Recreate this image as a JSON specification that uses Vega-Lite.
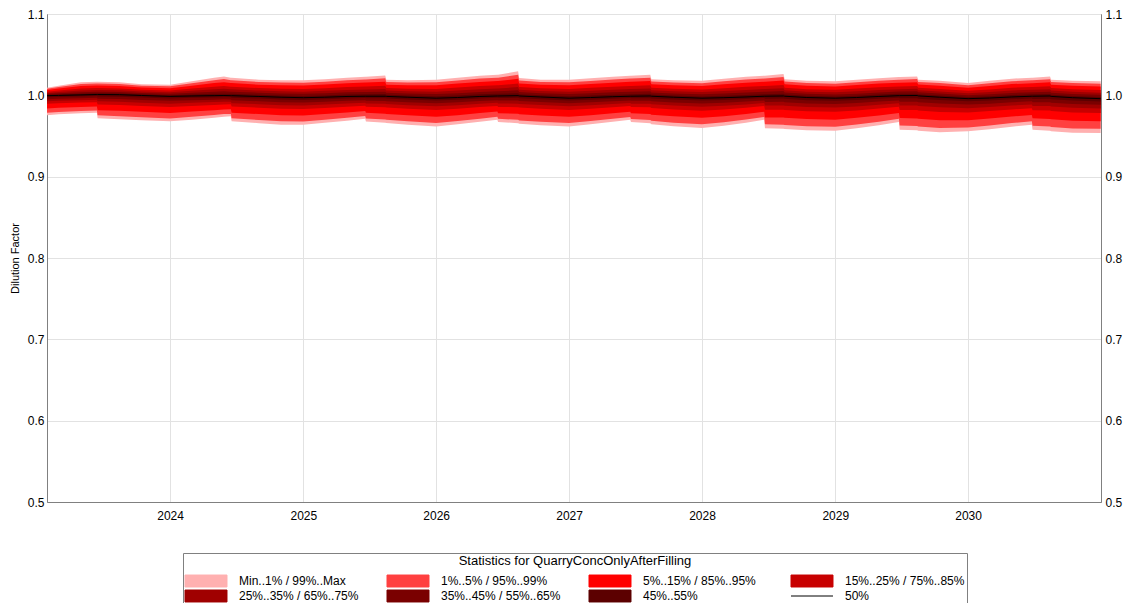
{
"$schema": "https://vega.github.io/schema/vega-lite/v6.json",
"width": 1054, "height": 488,
"autosize": {"type": "none"},
"padding": {"left": 47, "top": 14, "right": 30, "bottom": 101},
"background": "white",
"config": {
 "font": "Liberation Sans",
 "view": {"stroke": "#808080", "strokeWidth": 1},
 "axis": {"labelFont": "Liberation Sans", "labelFontSize": 12, "labelColor": "#000", "titleFont": "Liberation Sans", "titleFontSize": 11, "titleFontWeight": "normal", "titleColor": "#000", "domainColor": "#808080", "gridColor": "#e2e2e2", "gridWidth": 1, "zindex": 1, "ticks": false},
 "legend": {"columns": 4, "direction": "horizontal", "gridAlign": "all", "columnPadding": 26, "rowPadding": -2, "symbolSize": 169, "symbolOffset": 14, "labelOffset": 26, "labelFont": "Liberation Sans", "labelFontSize": 12, "labelColor": "#000", "titleFont": "Liberation Sans", "titleFontSize": 13, "titleFontWeight": "normal", "titleColor": "#000", "titleAnchor": "middle", "titlePadding": 6, "strokeColor": "#808080", "fillColor": "white", "padding": 2, "labelLimit": 200, "titleLimit": 800, "symbolStrokeWidth": 1, "symbolStrokeColor": "#383838"}
},
"data": {"values": [
{"d":"2023-01-28","mn":0.9756,"p1":0.9785,"p5":0.9838,"p15":0.9895,"p25":0.9926,"p35":0.9953,"p45":0.9977,"p50":0.9996,"p55":1.0006,"p65":1.0018,"p75":1.0030,"p85":1.0045,"p95":1.0065,"p99":1.0081,"mx":1.0094},
{"d":"2023-03-01","mn":0.9768,"p1":0.9796,"p5":0.9846,"p15":0.9902,"p25":0.9932,"p35":0.9957,"p45":0.9981,"p50":0.9999,"p55":1.0011,"p65":1.0025,"p75":1.0041,"p85":1.0059,"p95":1.0083,"p99":1.0102,"mx":1.0118},
{"d":"2023-05-01","mn":0.9780,"p1":0.9807,"p5":0.9857,"p15":0.9911,"p25":0.9940,"p35":0.9965,"p45":0.9987,"p50":1.0005,"p55":1.0021,"p65":1.0039,"p75":1.0060,"p85":1.0083,"p95":1.0114,"p99":1.0139,"mx":1.0161},
{"d":"2023-06-14","mn":0.9786,"p1":0.9813,"p5":0.9862,"p15":0.9916,"p25":0.9945,"p35":0.9970,"p45":0.9992,"p50":1.0010,"p55":1.0026,"p65":1.0045,"p75":1.0065,"p85":1.0089,"p95":1.0120,"p99":1.0145,"mx":1.0167},
{"d":"2023-06-16","mn":0.9719,"p1":0.9754,"p5":0.9818,"p15":0.9888,"p25":0.9926,"p35":0.9958,"p45":0.9987,"p50":1.0010,"p55":1.0026,"p65":1.0045,"p75":1.0065,"p85":1.0089,"p95":1.0120,"p99":1.0145,"mx":1.0167},
{"d":"2023-08-15","mn":0.9707,"p1":0.9743,"p5":0.9809,"p15":0.9882,"p25":0.9921,"p35":0.9954,"p45":0.9984,"p50":1.0008,"p55":1.0023,"p65":1.0042,"p75":1.0062,"p85":1.0085,"p95":1.0116,"p99":1.0140,"mx":1.0162},
{"d":"2023-10-15","mn":0.9694,"p1":0.9731,"p5":0.9798,"p15":0.9870,"p25":0.9910,"p35":0.9943,"p45":0.9974,"p50":0.9998,"p55":1.0012,"p65":1.0029,"p75":1.0047,"p85":1.0068,"p95":1.0095,"p99":1.0118,"mx":1.0137},
{"d":"2024-01-01","mn":0.9680,"p1":0.9716,"p5":0.9784,"p15":0.9858,"p25":0.9898,"p35":0.9932,"p45":0.9962,"p50":0.9987,"p55":1.0001,"p65":1.0019,"p75":1.0037,"p85":1.0059,"p95":1.0088,"p99":1.0111,"mx":1.0131},
{"d":"2024-03-01","mn":0.9701,"p1":0.9736,"p5":0.9800,"p15":0.9870,"p25":0.9908,"p35":0.9940,"p45":0.9969,"p50":0.9992,"p55":1.0010,"p65":1.0032,"p75":1.0056,"p85":1.0083,"p95":1.0119,"p99":1.0149,"mx":1.0174},
{"d":"2024-05-01","mn":0.9725,"p1":0.9758,"p5":0.9817,"p15":0.9882,"p25":0.9918,"p35":0.9947,"p45":0.9974,"p50":0.9996,"p55":1.0018,"p65":1.0045,"p75":1.0074,"p85":1.0107,"p95":1.0151,"p99":1.0186,"mx":1.0217},
{"d":"2024-05-28","mn":0.9737,"p1":0.9769,"p5":0.9826,"p15":0.9888,"p25":0.9922,"p35":0.9951,"p45":0.9977,"p50":0.9998,"p55":1.0021,"p65":1.0050,"p75":1.0080,"p85":1.0115,"p95":1.0162,"p99":1.0200,"mx":1.0233},
{"d":"2024-06-16","mn":0.9742,"p1":0.9772,"p5":0.9828,"p15":0.9889,"p25":0.9922,"p35":0.9950,"p45":0.9976,"p50":0.9996,"p55":1.0018,"p65":1.0045,"p75":1.0074,"p85":1.0107,"p95":1.0151,"p99":1.0186,"mx":1.0217},
{"d":"2024-06-18","mn":0.9680,"p1":0.9718,"p5":0.9787,"p15":0.9863,"p25":0.9904,"p35":0.9939,"p45":0.9971,"p50":0.9996,"p55":1.0018,"p65":1.0045,"p75":1.0074,"p85":1.0107,"p95":1.0151,"p99":1.0186,"mx":1.0217},
{"d":"2024-09-01","mn":0.9658,"p1":0.9697,"p5":0.9769,"p15":0.9848,"p25":0.9891,"p35":0.9927,"p45":0.9960,"p50":0.9986,"p55":1.0007,"p65":1.0032,"p75":1.0058,"p85":1.0089,"p95":1.0131,"p99":1.0164,"mx":1.0193},
{"d":"2024-11-01","mn":0.9639,"p1":0.9680,"p5":0.9754,"p15":0.9835,"p25":0.9879,"p35":0.9916,"p45":0.9950,"p50":0.9977,"p55":0.9998,"p65":1.0023,"p75":1.0050,"p85":1.0082,"p95":1.0123,"p99":1.0157,"mx":1.0186},
{"d":"2025-01-01","mn":0.9639,"p1":0.9679,"p5":0.9752,"p15":0.9832,"p25":0.9875,"p35":0.9911,"p45":0.9944,"p50":0.9971,"p55":0.9992,"p65":1.0018,"p75":1.0045,"p85":1.0077,"p95":1.0120,"p99":1.0154,"mx":1.0184},
{"d":"2025-03-01","mn":0.9664,"p1":0.9701,"p5":0.9770,"p15":0.9845,"p25":0.9886,"p35":0.9921,"p45":0.9952,"p50":0.9977,"p55":0.9999,"p65":1.0026,"p75":1.0055,"p85":1.0088,"p95":1.0132,"p99":1.0167,"mx":1.0198},
{"d":"2025-05-01","mn":0.9688,"p1":0.9724,"p5":0.9790,"p15":0.9861,"p25":0.9900,"p35":0.9932,"p45":0.9962,"p50":0.9986,"p55":1.0009,"p65":1.0037,"p75":1.0067,"p85":1.0102,"p95":1.0148,"p99":1.0185,"mx":1.0217},
{"d":"2025-06-20","mn":0.9712,"p1":0.9746,"p5":0.9806,"p15":0.9873,"p25":0.9909,"p35":0.9939,"p45":0.9967,"p50":0.9989,"p55":1.0013,"p65":1.0042,"p75":1.0073,"p85":1.0109,"p95":1.0157,"p99":1.0195,"mx":1.0229},
{"d":"2025-06-22","mn":0.9679,"p1":0.9716,"p5":0.9785,"p15":0.9859,"p25":0.9899,"p35":0.9933,"p45":0.9964,"p50":0.9989,"p55":1.0013,"p65":1.0042,"p75":1.0073,"p85":1.0109,"p95":1.0157,"p99":1.0195,"mx":1.0229},
{"d":"2025-08-14","mn":0.9663,"p1":0.9702,"p5":0.9774,"p15":0.9852,"p25":0.9895,"p35":0.9930,"p45":0.9963,"p50":0.9989,"p55":1.0015,"p65":1.0045,"p75":1.0079,"p85":1.0117,"p95":1.0168,"p99":1.0209,"mx":1.0245},
{"d":"2025-08-17","mn":0.9660,"p1":0.9699,"p5":0.9771,"p15":0.9850,"p25":0.9892,"p35":0.9928,"p45":0.9961,"p50":0.9987,"p55":1.0008,"p65":1.0032,"p75":1.0059,"p85":1.0090,"p95":1.0131,"p99":1.0164,"mx":1.0192},
{"d":"2025-10-15","mn":0.9639,"p1":0.9680,"p5":0.9754,"p15":0.9835,"p25":0.9879,"p35":0.9916,"p45":0.9950,"p50":0.9977,"p55":0.9998,"p65":1.0023,"p75":1.0050,"p85":1.0082,"p95":1.0123,"p99":1.0157,"mx":1.0186},
{"d":"2026-01-01","mn":0.9618,"p1":0.9660,"p5":0.9736,"p15":0.9819,"p25":0.9865,"p35":0.9903,"p45":0.9937,"p50":0.9965,"p55":0.9988,"p65":1.0015,"p75":1.0045,"p85":1.0079,"p95":1.0124,"p99":1.0161,"mx":1.0193},
{"d":"2026-03-01","mn":0.9645,"p1":0.9684,"p5":0.9756,"p15":0.9835,"p25":0.9878,"p35":0.9914,"p45":0.9947,"p50":0.9973,"p55":0.9997,"p65":1.0027,"p75":1.0058,"p85":1.0095,"p95":1.0144,"p99":1.0182,"mx":1.0217},
{"d":"2026-05-01","mn":0.9676,"p1":0.9713,"p5":0.9782,"p15":0.9856,"p25":0.9896,"p35":0.9930,"p45":0.9961,"p50":0.9986,"p55":1.0012,"p65":1.0042,"p75":1.0076,"p85":1.0114,"p95":1.0165,"p99":1.0206,"mx":1.0242},
{"d":"2026-06-18","mn":0.9701,"p1":0.9736,"p5":0.9800,"p15":0.9870,"p25":0.9908,"p35":0.9940,"p45":0.9969,"p50":0.9992,"p55":1.0018,"p65":1.0050,"p75":1.0084,"p85":1.0123,"p95":1.0175,"p99":1.0217,"mx":1.0254},
{"d":"2026-06-20","mn":0.9672,"p1":0.9711,"p5":0.9781,"p15":0.9858,"p25":0.9899,"p35":0.9935,"p45":0.9966,"p50":0.9992,"p55":1.0018,"p65":1.0050,"p75":1.0084,"p85":1.0123,"p95":1.0175,"p99":1.0217,"mx":1.0254},
{"d":"2026-08-14","mn":0.9658,"p1":0.9699,"p5":0.9773,"p15":0.9854,"p25":0.9898,"p35":0.9935,"p45":0.9969,"p50":0.9996,"p55":1.0026,"p65":1.0062,"p75":1.0101,"p85":1.0145,"p95":1.0205,"p99":1.0253,"mx":1.0295},
{"d":"2026-08-17","mn":0.9651,"p1":0.9692,"p5":0.9767,"p15":0.9849,"p25":0.9893,"p35":0.9931,"p45":0.9965,"p50":0.9992,"p55":1.0014,"p65":1.0041,"p75":1.0070,"p85":1.0103,"p95":1.0147,"p99":1.0182,"mx":1.0213},
{"d":"2026-10-15","mn":0.9633,"p1":0.9675,"p5":0.9751,"p15":0.9834,"p25":0.9880,"p35":0.9918,"p45":0.9952,"p50":0.9980,"p55":1.0001,"p65":1.0027,"p75":1.0054,"p85":1.0086,"p95":1.0129,"p99":1.0163,"mx":1.0193},
{"d":"2027-01-01","mn":0.9618,"p1":0.9660,"p5":0.9736,"p15":0.9819,"p25":0.9865,"p35":0.9903,"p45":0.9937,"p50":0.9965,"p55":0.9988,"p65":1.0015,"p75":1.0045,"p85":1.0079,"p95":1.0124,"p99":1.0161,"mx":1.0193},
{"d":"2027-03-01","mn":0.9645,"p1":0.9684,"p5":0.9756,"p15":0.9835,"p25":0.9878,"p35":0.9914,"p45":0.9947,"p50":0.9973,"p55":0.9997,"p65":1.0025,"p75":1.0056,"p85":1.0092,"p95":1.0139,"p99":1.0177,"mx":1.0210},
{"d":"2027-05-01","mn":0.9676,"p1":0.9713,"p5":0.9780,"p15":0.9854,"p25":0.9894,"p35":0.9928,"p45":0.9958,"p50":0.9983,"p55":1.0008,"p65":1.0037,"p75":1.0069,"p85":1.0106,"p95":1.0155,"p99":1.0195,"mx":1.0229},
{"d":"2027-06-18","mn":0.9700,"p1":0.9735,"p5":0.9798,"p15":0.9868,"p25":0.9905,"p35":0.9937,"p45":0.9966,"p50":0.9989,"p55":1.0014,"p65":1.0045,"p75":1.0077,"p85":1.0115,"p95":1.0166,"p99":1.0206,"mx":1.0241},
{"d":"2027-06-20","mn":0.9672,"p1":0.9710,"p5":0.9780,"p15":0.9856,"p25":0.9897,"p35":0.9932,"p45":0.9964,"p50":0.9989,"p55":1.0014,"p65":1.0045,"p75":1.0077,"p85":1.0115,"p95":1.0166,"p99":1.0206,"mx":1.0241},
{"d":"2027-08-12","mn":0.9657,"p1":0.9698,"p5":0.9771,"p15":0.9852,"p25":0.9895,"p35":0.9932,"p45":0.9965,"p50":0.9992,"p55":1.0018,"p65":1.0050,"p75":1.0084,"p85":1.0123,"p95":1.0175,"p99":1.0217,"mx":1.0254},
{"d":"2027-08-15","mn":0.9645,"p1":0.9686,"p5":0.9762,"p15":0.9844,"p25":0.9889,"p35":0.9927,"p45":0.9961,"p50":0.9989,"p55":1.0010,"p65":1.0035,"p75":1.0062,"p85":1.0094,"p95":1.0135,"p99":1.0169,"mx":1.0198},
{"d":"2027-10-15","mn":0.9620,"p1":0.9663,"p5":0.9742,"p15":0.9827,"p25":0.9874,"p35":0.9913,"p45":0.9949,"p50":0.9977,"p55":0.9998,"p65":1.0023,"p75":1.0050,"p85":1.0082,"p95":1.0123,"p99":1.0157,"mx":1.0186},
{"d":"2028-01-01","mn":0.9599,"p1":0.9643,"p5":0.9723,"p15":0.9811,"p25":0.9859,"p35":0.9899,"p45":0.9936,"p50":0.9965,"p55":0.9987,"p65":1.0012,"p75":1.0040,"p85":1.0073,"p95":1.0116,"p99":1.0150,"mx":1.0180},
{"d":"2028-03-01","mn":0.9627,"p1":0.9668,"p5":0.9744,"p15":0.9826,"p25":0.9871,"p35":0.9909,"p45":0.9944,"p50":0.9971,"p55":0.9994,"p65":1.0022,"p75":1.0053,"p85":1.0088,"p95":1.0135,"p99":1.0172,"mx":1.0205},
{"d":"2028-05-01","mn":0.9664,"p1":0.9702,"p5":0.9771,"p15":0.9847,"p25":0.9888,"p35":0.9923,"p45":0.9955,"p50":0.9980,"p55":1.0005,"p65":1.0035,"p75":1.0067,"p85":1.0105,"p95":1.0155,"p99":1.0195,"mx":1.0230},
{"d":"2028-06-20","mn":0.9700,"p1":0.9735,"p5":0.9798,"p15":0.9868,"p25":0.9905,"p35":0.9937,"p45":0.9966,"p50":0.9989,"p55":1.0014,"p65":1.0045,"p75":1.0077,"p85":1.0115,"p95":1.0166,"p99":1.0206,"mx":1.0241},
{"d":"2028-06-22","mn":0.9596,"p1":0.9643,"p5":0.9729,"p15":0.9824,"p25":0.9875,"p35":0.9918,"p45":0.9958,"p50":0.9989,"p55":1.0014,"p65":1.0045,"p75":1.0077,"p85":1.0115,"p95":1.0166,"p99":1.0206,"mx":1.0241},
{"d":"2028-08-12","mn":0.9590,"p1":0.9638,"p5":0.9727,"p15":0.9823,"p25":0.9875,"p35":0.9920,"p45":0.9960,"p50":0.9992,"p55":1.0019,"p65":1.0052,"p75":1.0087,"p85":1.0127,"p95":1.0181,"p99":1.0225,"mx":1.0263},
{"d":"2028-08-15","mn":0.9586,"p1":0.9634,"p5":0.9723,"p15":0.9820,"p25":0.9872,"p35":0.9916,"p45":0.9957,"p50":0.9989,"p55":1.0010,"p65":1.0035,"p75":1.0062,"p85":1.0094,"p95":1.0135,"p99":1.0169,"mx":1.0198},
{"d":"2028-10-15","mn":0.9571,"p1":0.9619,"p5":0.9708,"p15":0.9804,"p25":0.9856,"p35":0.9901,"p45":0.9941,"p50":0.9973,"p55":0.9994,"p65":1.0019,"p75":1.0045,"p85":1.0076,"p95":1.0118,"p99":1.0151,"mx":1.0180},
{"d":"2029-01-01","mn":0.9565,"p1":0.9613,"p5":0.9701,"p15":0.9797,"p25":0.9849,"p35":0.9893,"p45":0.9933,"p50":0.9965,"p55":0.9986,"p65":1.0011,"p75":1.0037,"p85":1.0068,"p95":1.0110,"p99":1.0143,"mx":1.0172},
{"d":"2029-03-01","mn":0.9596,"p1":0.9641,"p5":0.9724,"p15":0.9814,"p25":0.9864,"p35":0.9905,"p45":0.9943,"p50":0.9973,"p55":0.9995,"p65":1.0021,"p75":1.0050,"p85":1.0083,"p95":1.0126,"p99":1.0161,"mx":1.0192},
{"d":"2029-05-01","mn":0.9633,"p1":0.9675,"p5":0.9753,"p15":0.9838,"p25":0.9884,"p35":0.9923,"p45":0.9958,"p50":0.9986,"p55":1.0009,"p65":1.0036,"p75":1.0065,"p85":1.0099,"p95":1.0144,"p99":1.0180,"mx":1.0211},
{"d":"2029-06-25","mn":0.9673,"p1":0.9711,"p5":0.9783,"p15":0.9860,"p25":0.9902,"p35":0.9938,"p45":0.9970,"p50":0.9996,"p55":1.0019,"p65":1.0046,"p75":1.0076,"p85":1.0110,"p95":1.0155,"p99":1.0192,"mx":1.0224},
{"d":"2029-06-27","mn":0.9578,"p1":0.9628,"p5":0.9720,"p15":0.9820,"p25":0.9875,"p35":0.9921,"p45":0.9963,"p50":0.9996,"p55":1.0019,"p65":1.0046,"p75":1.0076,"p85":1.0110,"p95":1.0155,"p99":1.0192,"mx":1.0224},
{"d":"2029-08-14","mn":0.9571,"p1":0.9622,"p5":0.9716,"p15":0.9819,"p25":0.9874,"p35":0.9921,"p45":0.9964,"p50":0.9998,"p55":1.0021,"p65":1.0050,"p75":1.0080,"p85":1.0115,"p95":1.0162,"p99":1.0200,"mx":1.0233},
{"d":"2029-08-17","mn":0.9565,"p1":0.9616,"p5":0.9711,"p15":0.9813,"p25":0.9869,"p35":0.9916,"p45":0.9959,"p50":0.9993,"p55":1.0013,"p65":1.0037,"p75":1.0063,"p85":1.0093,"p95":1.0132,"p99":1.0164,"mx":1.0192},
{"d":"2029-10-15","mn":0.9547,"p1":0.9598,"p5":0.9693,"p15":0.9796,"p25":0.9852,"p35":0.9900,"p45":0.9943,"p50":0.9977,"p55":0.9997,"p65":1.0022,"p75":1.0048,"p85":1.0079,"p95":1.0119,"p99":1.0152,"mx":1.0180},
{"d":"2030-01-01","mn":0.9557,"p1":0.9605,"p5":0.9694,"p15":0.9790,"p25":0.9842,"p35":0.9887,"p45":0.9927,"p50":0.9959,"p55":0.9978,"p65":1.0002,"p75":1.0027,"p85":1.0056,"p95":1.0094,"p99":1.0125,"mx":1.0152},
{"d":"2030-03-01","mn":0.9583,"p1":0.9629,"p5":0.9714,"p15":0.9806,"p25":0.9856,"p35":0.9898,"p45":0.9936,"p50":0.9967,"p55":0.9988,"p65":1.0014,"p75":1.0041,"p85":1.0073,"p95":1.0116,"p99":1.0150,"mx":1.0180},
{"d":"2030-05-01","mn":0.9615,"p1":0.9659,"p5":0.9739,"p15":0.9827,"p25":0.9874,"p35":0.9914,"p45":0.9951,"p50":0.9980,"p55":1.0003,"p65":1.0030,"p75":1.0059,"p85":1.0093,"p95":1.0138,"p99":1.0174,"mx":1.0205},
{"d":"2030-06-25","mn":0.9639,"p1":0.9681,"p5":0.9758,"p15":0.9842,"p25":0.9887,"p35":0.9926,"p45":0.9961,"p50":0.9989,"p55":1.0012,"p65":1.0039,"p75":1.0069,"p85":1.0103,"p95":1.0148,"p99":1.0185,"mx":1.0217},
{"d":"2030-06-27","mn":0.9577,"p1":0.9627,"p5":0.9717,"p15":0.9816,"p25":0.9870,"p35":0.9915,"p45":0.9956,"p50":0.9989,"p55":1.0012,"p65":1.0039,"p75":1.0069,"p85":1.0103,"p95":1.0148,"p99":1.0185,"mx":1.0217},
{"d":"2030-08-14","mn":0.9565,"p1":0.9617,"p5":0.9710,"p15":0.9813,"p25":0.9868,"p35":0.9915,"p45":0.9958,"p50":0.9992,"p55":1.0016,"p65":1.0045,"p75":1.0076,"p85":1.0113,"p95":1.0161,"p99":1.0199,"mx":1.0233},
{"d":"2030-08-17","mn":0.9559,"p1":0.9610,"p5":0.9705,"p15":0.9807,"p25":0.9863,"p35":0.9910,"p45":0.9953,"p50":0.9987,"p55":1.0008,"p65":1.0032,"p75":1.0059,"p85":1.0090,"p95":1.0131,"p99":1.0164,"mx":1.0192},
{"d":"2030-10-15","mn":0.9541,"p1":0.9592,"p5":0.9687,"p15":0.9790,"p25":0.9846,"p35":0.9894,"p45":0.9937,"p50":0.9971,"p55":0.9992,"p65":1.0017,"p75":1.0044,"p85":1.0076,"p95":1.0117,"p99":1.0151,"mx":1.0180},
{"d":"2030-12-31","mn":0.9537,"p1":0.9588,"p5":0.9681,"p15":0.9782,"p25":0.9837,"p35":0.9883,"p45":0.9925,"p50":0.9959,"p55":0.9980,"p65":1.0006,"p75":1.0033,"p85":1.0065,"p95":1.0108,"p99":1.0142,"mx":1.0172}
]},
"encoding": {
 "x": {"field": "d", "type": "temporal", "scale": {"type": "utc", "domain": [{"year": 2023, "month": 1, "date": 28, "utc": true}, {"year": 2031, "month": 1, "date": 1, "utc": true}]},
  "axis": {"title": null, "format": "%Y", "values": [{"year": 2024, "utc": true}, {"year": 2025, "utc": true}, {"year": 2026, "utc": true}, {"year": 2027, "utc": true}, {"year": 2028, "utc": true}, {"year": 2029, "utc": true}, {"year": 2030, "utc": true}], "labelPadding": 8, "grid": true}}
},
"layer": [
 {"mark": {"type": "area", "opacity": 1},
  "encoding": {
   "y": {"field": "mn", "type": "quantitative", "scale": {"domain": [0.5, 1.1], "nice": false, "zero": false},
    "axis": {"title": "Dilution Factor", "titlePadding": 7, "values": [0.5, 0.6, 0.7, 0.8, 0.9, 1.0, 1.1], "format": ".1f", "labelPadding": 3, "grid": true}},
   "y2": {"field": "mx"},
   "color": {"datum": "Min..1% / 99%..Max", "type": "nominal",
    "scale": {"domain": ["Min..1% / 99%..Max", "1%..5% / 95%..99%", "5%..15% / 85%..95%", "15%..25% / 75%..85%", "25%..35% / 65%..75%", "35%..45% / 55%..65%", "45%..55%", "50%"],
              "range": ["#ffb0b0", "#ff4040", "#ff0000", "#c80000", "#a00000", "#7a0000", "#5c0000", "#000000"]},
    "legend": {"orient": "none", "legendX": 136, "legendY": 539, "title": "Statistics for QuarryConcOnlyAfterFilling",
     "symbolType": {"expr": "datum.value === '50%' ? 'M-3.23,0H3.23' : 'M-3.23,-0.92H3.23V0.92H-3.23Z'"},
     "symbolOpacity": 1}}
  }},
 {"mark": {"type": "area", "opacity": 1}, "encoding": {"y": {"field": "p1", "type": "quantitative", "axis": null}, "y2": {"field": "p99"}, "color": {"datum": "1%..5% / 95%..99%", "type": "nominal"}}},
 {"mark": {"type": "area", "opacity": 1}, "encoding": {"y": {"field": "p5", "type": "quantitative", "axis": null}, "y2": {"field": "p95"}, "color": {"datum": "5%..15% / 85%..95%", "type": "nominal"}}},
 {"mark": {"type": "area", "opacity": 1}, "encoding": {"y": {"field": "p15", "type": "quantitative", "axis": null}, "y2": {"field": "p85"}, "color": {"datum": "15%..25% / 75%..85%", "type": "nominal"}}},
 {"mark": {"type": "area", "opacity": 1}, "encoding": {"y": {"field": "p25", "type": "quantitative", "axis": null}, "y2": {"field": "p75"}, "color": {"datum": "25%..35% / 65%..75%", "type": "nominal"}}},
 {"mark": {"type": "area", "opacity": 1}, "encoding": {"y": {"field": "p35", "type": "quantitative", "axis": null}, "y2": {"field": "p65"}, "color": {"datum": "35%..45% / 55%..65%", "type": "nominal"}}},
 {"mark": {"type": "area", "opacity": 1}, "encoding": {"y": {"field": "p45", "type": "quantitative", "axis": null}, "y2": {"field": "p55"}, "color": {"datum": "45%..55%", "type": "nominal"}}},
 {"mark": {"type": "line", "strokeWidth": 1}, "encoding": {"y": {"field": "p50", "type": "quantitative",
   "axis": {"orient": "right", "title": null, "values": [0.5, 0.6, 0.7, 0.8, 0.9, 1.0, 1.1], "format": ".1f", "labelPadding": 4, "grid": false}},
   "color": {"datum": "50%", "type": "nominal"}}}
],
"resolve": {"axis": {"y": "independent"}}
}
